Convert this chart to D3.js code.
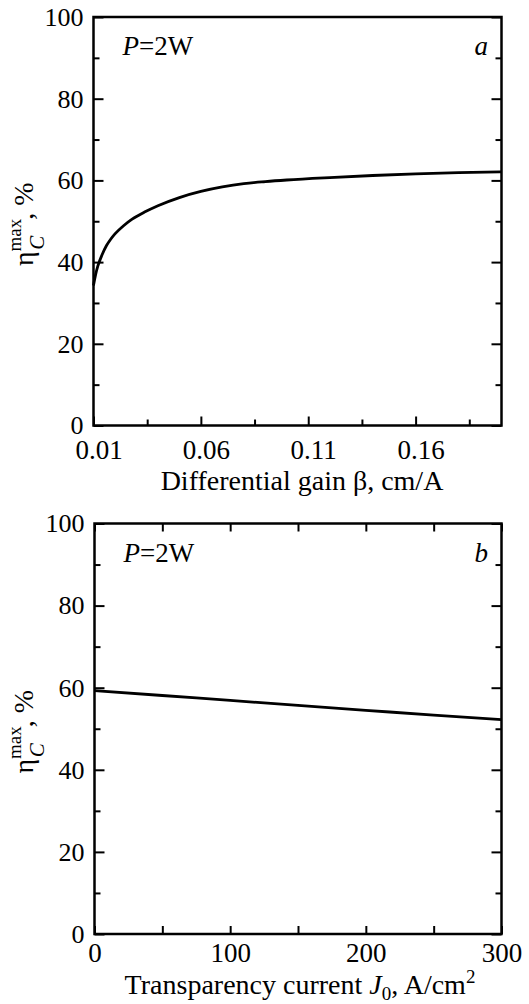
<!DOCTYPE html>
<meta charset="utf-8">
<style>
body { margin: 0; background: #fff; }
text { font-family: "Liberation Serif", "Times New Roman", serif; fill: #000; }
.frame { fill: none; stroke: #000; stroke-width: 2.5; }
.line { fill: none; stroke: #000; stroke-width: 2.8; }
.axis path { display: none; }
.axis line { stroke: #000; stroke-width: 2; }
.axis text { font-size: 26px; font-family: "Liberation Serif", serif; }
.xaxis text { font-size: 27px; }
</style>
<body>
<script src="https://cdn.jsdelivr.net/npm/d3@7"></script>
<script>

// panel a: efficiency vs differential gain
var gainBeta = [0.010, 0.011, 0.012, 0.014, 0.016, 0.018, 0.020, 0.024, 0.028, 0.034, 0.040, 0.050, 0.060, 0.070, 0.080, 0.090, 0.100, 0.120, 0.140, 0.160, 0.180, 0.200];
var etaGain  = [34.3, 37.0, 39.0, 41.8, 44.0, 45.6, 46.9, 48.9, 50.5, 52.3, 53.8, 55.8, 57.3, 58.4, 59.2, 59.7, 60.1, 60.7, 61.2, 61.6, 61.9, 62.1];
var gainTicks = [0.01, 0.06, 0.11, 0.16];
var gainMinor = [0.035, 0.085, 0.135, 0.185];

// panel b: efficiency vs transparency current
var currentJ0  = [0, 50, 100, 150, 200, 250, 300];
var etaCurrent = [59.3, 58.1, 56.9, 55.7, 54.5, 53.3, 52.2];
var currentTicks = [0, 100, 200, 300];
var currentMinor = [50, 150, 250];

var yTicks = [0, 20, 40, 60, 80, 100];
var yMinor = [10, 30, 50, 70, 90];

var svg = d3.select("body").append("svg")
    .attr("width", 529)
    .attr("height", 1004);

function panel(opt) {
    var x = d3.scaleLinear().domain(opt.xDomain).range([opt.left, opt.right]);
    var y = d3.scaleLinear().domain([0, 100]).range([opt.bottom, opt.top]);
    var g = svg.append("g");

    // left ticks (inward) with labels
    g.append("g").attr("class", "axis")
        .attr("transform", "translate(" + opt.left + ",0)")
        .call(d3.axisLeft(y).tickValues(yTicks).tickSize(-10).tickPadding(10));
    g.append("g").attr("class", "axis")
        .attr("transform", "translate(" + opt.left + ",0)")
        .call(d3.axisLeft(y).tickValues(yMinor).tickSize(-6).tickFormat(""));
    // right ticks
    g.append("g").attr("class", "axis")
        .attr("transform", "translate(" + opt.right + ",0)")
        .call(d3.axisRight(y).tickValues(yTicks).tickSize(-10).tickFormat(""));
    g.append("g").attr("class", "axis")
        .attr("transform", "translate(" + opt.right + ",0)")
        .call(d3.axisRight(y).tickValues(yMinor).tickSize(-6).tickFormat(""));

    // bottom ticks
    var bx = g.append("g").attr("class", "axis xaxis")
        .attr("transform", "translate(0," + opt.bottom + ")")
        .call(d3.axisBottom(x).tickValues(opt.xTicks).tickSize(-opt.majorLen).tickFormat(opt.fmt));
    bx.selectAll("text").attr("dy", 0).attr("y", opt.labelY).attr("dx", opt.labelDx);
    g.append("g").attr("class", "axis")
        .attr("transform", "translate(0," + opt.bottom + ")")
        .call(d3.axisBottom(x).tickValues(opt.xMinor).tickSize(-opt.minorLen).tickFormat(""));

    if (opt.topTicks) {
        g.append("g").attr("class", "axis")
            .attr("transform", "translate(0," + opt.top + ")")
            .call(d3.axisTop(x).tickValues(opt.xTicks.concat(opt.xMinor)).tickSize(-8).tickFormat(""));
    }

    // the curve
    var line = d3.line()
        .x(function(d) { return x(d[0]); })
        .y(function(d) { return y(d[1]); })
        .curve(d3.curveMonotoneX);
    g.append("path")
        .datum(d3.zip(opt.xs, opt.ys))
        .attr("class", "line")
        .attr("d", line);

    // frame
    g.append("rect").attr("class", "frame")
        .attr("x", opt.left).attr("y", opt.top)
        .attr("width", opt.right - opt.left)
        .attr("height", opt.bottom - opt.top);

    // P=2W and panel letter
    var p = g.append("text")
        .attr("x", opt.left + 29).attr("y", opt.top + 38)
        .style("font-size", "27px");
    p.append("tspan").style("font-style", "italic").text("P");
    p.append("tspan").text("=2W");
    g.append("text")
        .attr("x", opt.right - 27).attr("y", opt.top + 38)
        .style("font-size", "27px").style("font-style", "italic")
        .text(opt.letter);

    // y title
    var yt = g.append("text")
        .attr("transform", "translate(33," + ((opt.top + opt.bottom) / 2 + 3) + ") rotate(-90)")
        .attr("text-anchor", "middle")
        .style("font-size", "28px");
    yt.append("tspan").text("\u03B7");
    yt.append("tspan").attr("dy", -12).style("font-size", "19px").text("max");
    yt.append("tspan").attr("dx", -31).attr("dy", 23).style("font-size", "21px").style("font-style", "italic").text("C");
    yt.append("tspan").attr("dx", 16).attr("dy", -11).text(", %");

    return g;
}

var ga = panel({
    xDomain: [0.01, 0.2], left: 93.5, right: 501.5, top: 17, bottom: 425.5,
    xTicks: gainTicks, xMinor: gainMinor, fmt: d3.format(".2f"),
    majorLen: 9, minorLen: 6, labelY: 33, labelDx: 5, topTicks: false,
    xs: gainBeta, ys: etaGain, letter: "a"
});
ga.append("text")
    .attr("x", 302).attr("y", 490)
    .attr("text-anchor", "middle")
    .style("font-size", "28px")
    .text("Differential gain \u03B2, cm/A");

var gb = panel({
    xDomain: [0, 300], left: 94.5, right: 501.5, top: 523.5, bottom: 934,
    xTicks: currentTicks, xMinor: currentMinor, fmt: d3.format("d"),
    majorLen: 8, minorLen: 8, labelY: 28, labelDx: 0, topTicks: true,
    xs: currentJ0, ys: etaCurrent, letter: "b"
});
var tb = gb.append("text")
    .attr("x", 300).attr("y", 994)
    .attr("text-anchor", "middle")
    .style("font-size", "28px");
tb.append("tspan").text("Transparency current ");
tb.append("tspan").style("font-style", "italic").text("J");
tb.append("tspan").attr("dy", 6).style("font-size", "19px").text("0");
tb.append("tspan").attr("dy", -6).text(", A/cm");
tb.append("tspan").attr("dy", -11).style("font-size", "19px").text("2");

</script>
</body>
